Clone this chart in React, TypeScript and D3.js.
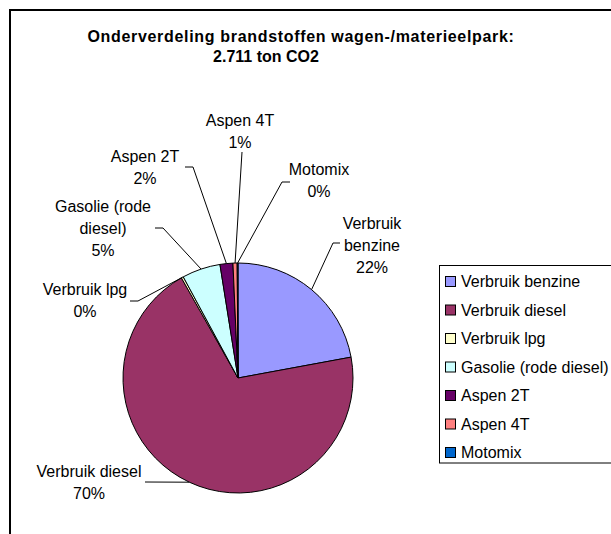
import * as d3 from "d3";
import React from "react";

const categories = [
  "Verbruik benzine",
  "Verbruik diesel",
  "Verbruik lpg",
  "Gasolie (rode diesel)",
  "Aspen 2T",
  "Aspen 4T",
  "Motomix",
];
// ton CO2, total 2.711
const values = [599, 1890, 8, 146, 49, 16, 3];
const colors = ["#9999FF", "#993366", "#FFFFCC", "#CCFFFF", "#660066", "#FF8080", "#0066CC"];
// pie labels as wrapped by the chart
const labelLines = [
  ["Verbruik", "benzine"],
  ["Verbruik diesel"],
  ["Verbruik lpg"],
  ["Gasolie (rode", "diesel)"],
  ["Aspen 2T"],
  ["Aspen 4T"],
  ["Motomix"],
];
const titleLines = ["Onderverdeling brandstoffen wagen-/materieelpark:", "2.711 ton CO2"];

// label placement (layout only)
const labelPos = [
  { x: 372, y: 229, lead: [[340, 243], [333, 243]] },
  { x: 89, y: 477, lead: [[145, 482]] },
  { x: 85, y: 295, lead: [[130, 301], [138, 301]] },
  { x: 103, y: 212, lead: [[155, 228], [163, 228]] },
  { x: 145, y: 162, lead: [[185, 167], [193, 167]] },
  { x: 240, y: 126, lead: [[242, 152]] },
  { x: 319, y: 175, lead: [[290, 182], [282, 182]] },
];

const W = 611;
const H = 534;
const cx = 238;
const cy = 378;
const R = 115;
const font = "'Liberation Sans', Arial, sans-serif";
const fs = 16;
const lh = 22;

export default function App() {
  const total = d3.sum(values);
  const pie = d3.pie<number>().sort(null).value((d) => d);
  const arcs = pie(values);
  const arc = d3.arc<d3.PieArcDatum<number>>().innerRadius(0).outerRadius(R);
  const edge = d3.arc<d3.PieArcDatum<number>>().innerRadius(R).outerRadius(R);
  const pct = (v: number) => `${Math.round((v / total) * 100)}%`;

  return (
    <svg width={W} height={H} style={{ position: "absolute", left: 0, top: 0, background: "#fff" }}
      fontFamily={font}>
      <rect x={0} y={0} width={W} height={H} fill="#fff" />
      <rect x={10} y={10} width={700} height={600} fill="none" stroke="#000" strokeWidth={2} />
      <text x={301} y={42} textAnchor="middle" fontWeight="bold" fontSize={fs} letterSpacing={0.68}>{titleLines[0]}</text>
      <text x={266} y={62} textAnchor="middle" fontWeight="bold" fontSize={fs}>{titleLines[1]}</text>

      <g transform={`translate(${cx},${cy})`}>
        {arcs.map((a, i) => (
          <path key={i} d={arc(a) || ""} fill={colors[i]} stroke="#000" strokeWidth={1} />
        ))}
      </g>

      {arcs.map((a, i) => {
        const [ex, ey] = edge.centroid(a);
        const pts = [...labelPos[i].lead, [cx + ex, cy + ey]];
        const line = d3.line()(pts as [number, number][]) || "";
        return <path key={"l" + i} d={line} fill="none" stroke="#000" strokeWidth={1} />;
      })}

      {arcs.map((a, i) => {
        const lines = [...labelLines[i], pct(values[i])];
        return (
          <text key={"t" + i} textAnchor="middle" fontSize={fs} fill="#000">
            {lines.map((s, j) => (
              <tspan key={j} x={labelPos[i].x} y={labelPos[i].y + j * lh}>{s}</tspan>
            ))}
          </text>
        );
      })}

      <rect x={439.5} y={265.5} width={300} height={197.5} fill="#fff" stroke="#000" strokeWidth={1} />
      {categories.map((c, i) => {
        const by = 287 + i * 28.5;
        return (
          <g key={"g" + i}>
            <rect x={445.5} y={by - 10.5} width={10} height={10} fill={colors[i]} stroke="#000" strokeWidth={1} />
            <text x={461} y={by} fontSize={fs}>{c}</text>
          </g>
        );
      })}
    </svg>
  );
}
